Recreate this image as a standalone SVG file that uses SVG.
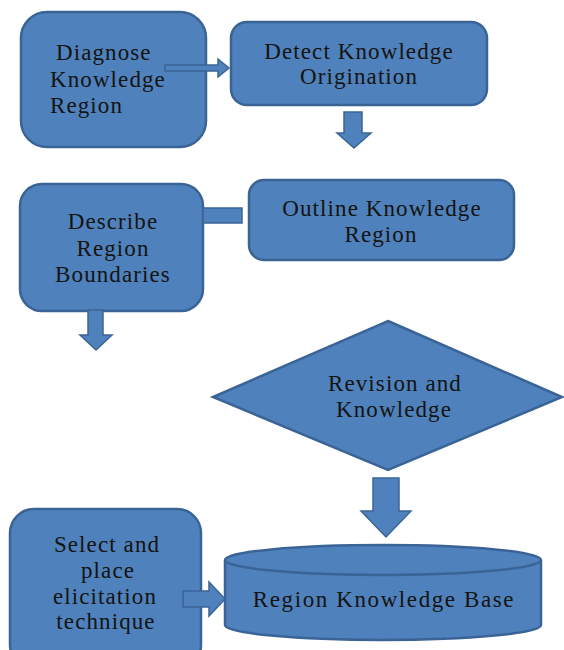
<svg xmlns="http://www.w3.org/2000/svg" width="564" height="650" viewBox="0 0 564 650">
<style>
.s{fill:#4f81bd;stroke:#3b6496;stroke-width:2.5}
.t{font-family:"Liberation Serif","Times New Roman",serif;font-size:23px;fill:#141410;letter-spacing:1.1px}
.m{text-anchor:middle}
</style>
<rect width="564" height="650" fill="#fff"/>
<g id="n1">
<rect class="s" x="21" y="12" width="185" height="135" rx="26"/>
<text class="t" x="56" y="60">Diagnose</text>
<text class="t" x="50" y="87">Knowledge</text>
<text class="t" x="50" y="113">Region</text>
</g>
<g id="n2">
<rect class="s" x="231" y="22" width="256" height="83" rx="16"/>
<text class="t m" x="359" y="59">Detect Knowledge</text>
<text class="t m" x="359" y="84">Origination</text>
</g>
<g id="n3">
<rect class="s" x="20" y="184" width="183" height="127" rx="22"/>
<text class="t m" x="113" y="229">Describe</text>
<text class="t m" x="113" y="256">Region</text>
<text class="t m" x="113" y="282">Boundaries</text>
</g>
<g id="n4">
<rect class="s" x="249" y="180" width="265" height="80" rx="15"/>
<text class="t m" x="382" y="216">Outline Knowledge</text>
<text class="t m" x="381" y="242">Region</text>
</g>
<g id="n5">
<polygon class="s" points="388,321 562,397 388,470 213,397"/>
<text class="t m" x="395" y="391">Revision and</text>
<text class="t m" x="394" y="417">Knowledge</text>
</g>
<g id="n6">
<rect class="s" x="10" y="509" width="191" height="160" rx="24"/>
<text class="t m" x="107" y="552">Select and</text>
<text class="t m" x="108" y="578">place</text>
<text class="t m" x="105" y="604">elicitation</text>
<text class="t m" x="106" y="629">technique</text>
</g>
<g id="n7">
<path class="s" d="M225,560 L225,625 A158,15 0 0 0 541,625 L541,560"/>
<ellipse class="s" cx="383" cy="560" rx="158" ry="15"/>
<text class="t m" x="384" y="607" style="letter-spacing:1.6px">Region Knowledge Base</text>
</g>
<g id="connectors">
<polygon class="s" points="165,65 218,65 218,59 229,68 218,77 218,71 165,71" style="stroke-width:1.5"/>
<polygon class="s" points="344,112 362,112 362,133 371,133 354,148 337,133 344,133" style="stroke-width:1.5"/>
<rect class="s" x="203" y="208" width="39" height="15" style="stroke-width:1.5"/>
<polygon class="s" points="88,310 103,310 103,335 112,335 96,350 80,335 88,335" style="stroke-width:1.5"/>
<polygon class="s" points="373,478 399,478 399,511 411,511 386,537 361,511 373,511" style="stroke-width:1.5"/>
<polygon class="s" points="183,591 209,591 209,582 225,599 209,616 209,607 183,607" style="stroke-width:1.5"/>
</g>
</svg>
